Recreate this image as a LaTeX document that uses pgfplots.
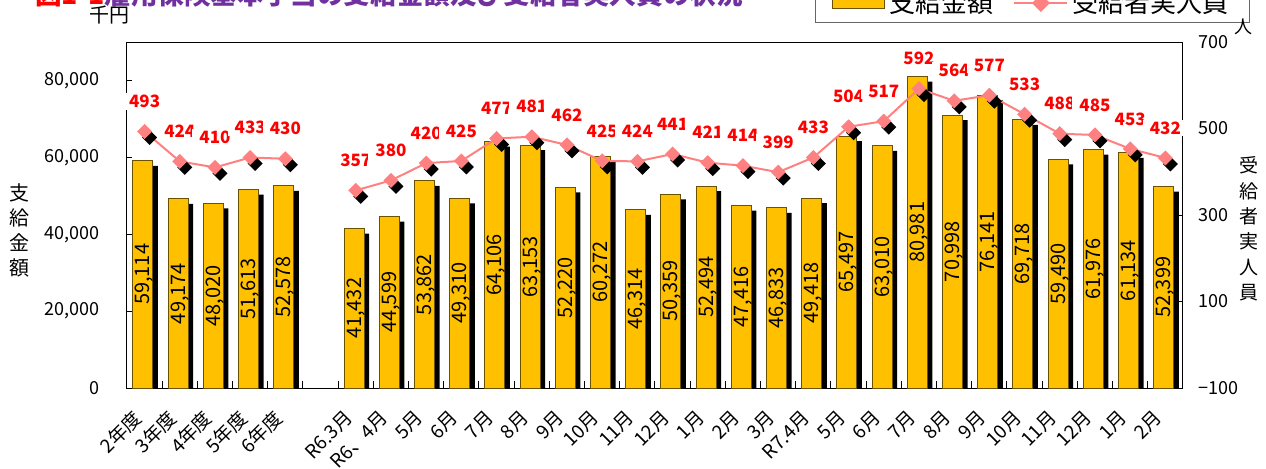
\documentclass[border=0pt]{standalone}
\usepackage{pgfplots}
\pgfplotsset{compat=1.18}
\usepackage{pgfplotstable}
\usepackage{fontspec}
\setmainfont{Noto Sans CJK JP}
\definecolor{barorange}{HTML}{FFC000}
\definecolor{bardark}{HTML}{6B5200}
\definecolor{linepink}{HTML}{FF8080}
\definecolor{labelred}{HTML}{FF0000}
\definecolor{titlered}{HTML}{FF0000}
\definecolor{titlepurple}{HTML}{7030A0}
\newcommand\tickfont{\fontsize{9}{10}\selectfont}
\newcommand\xlabfont{\fontsize{9.5}{10}\selectfont}
\newcommand\barfont{\fontsize{10}{10}\selectfont}
\newcommand\linelabfont{\fontsize{8.5}{8.5}\selectfont\bfseries}
\newcommand\legendfont{\fontsize{13}{13}\selectfont}

\pgfdeclareplotmark{shdiamond}{%
  \pgfsetfillcolor{black}%
  \pgfpathmoveto{\pgfqpoint{2.5pt}{0.75pt}}%
  \pgfpathlineto{\pgfqpoint{6.25pt}{-3pt}}%
  \pgfpathlineto{\pgfqpoint{2.5pt}{-6.75pt}}%
  \pgfpathlineto{\pgfqpoint{-1.25pt}{-3pt}}%
  \pgfpathclose\pgfusepathqfill
  \pgfsetfillcolor{linepink}%
  \pgfpathmoveto{\pgfqpoint{0pt}{3.75pt}}%
  \pgfpathlineto{\pgfqpoint{3.75pt}{0pt}}%
  \pgfpathlineto{\pgfqpoint{0pt}{-3.75pt}}%
  \pgfpathlineto{\pgfqpoint{-3.75pt}{0pt}}%
  \pgfpathclose\pgfusepathqfill
}

\pgfplotstableread{
x amt ppl
0 59114 493
1 49174 424
2 48020 410
3 51613 433
4 52578 430
5 nan nan
6 41432 357
7 44599 380
8 53862 420
9 49310 425
10 64106 477
11 63153 481
12 52220 462
13 60272 425
14 46314 424
15 50359 441
16 52494 421
17 47416 414
18 46833 399
19 49418 433
20 65497 504
21 63010 517
22 80981 592
23 70998 564
24 76141 577
25 69718 533
26 59490 488
27 61976 485
28 61134 453
29 52399 432
}\datatable

\begin{document}
\begin{tikzpicture}
\useasboundingbox (-63.5pt,-40pt) rectangle (569.5pt,194pt);

\begin{axis}[
  at={(0pt,0pt)}, anchor=south west,
  width=528pt, height=173pt, scale only axis,
  xmin=-0.5, xmax=29.5, ymin=0, ymax=90000,
  axis line style={line width=0.5pt},
  ytick={0,20000,40000,60000,80000},
  yticklabels={0,{20,000},{40,000},{60,000},{80,000}},
  scaled y ticks=false,
  ytick pos=left, xtick pos=bottom,
  tick align=inside,
  major tick length=2.5pt,
  minor tick length=3.5pt,
  tick style={black, line width=0.5pt},
  xtick={0,...,29},
  xticklabels={2年度,3年度,4年度,5年度,6年度,,R6.3月,R6、4月,5月,6月,7月,8月,9月,10月,11月,12月,1月,2月,3月,R7.4月,5月,6月,7月,8月,9月,10月,11月,12月,1月,2月},
  major x tick style={draw=none},
  minor xtick={0.5,1.5,...,28.5},
  xticklabel style={xshift=-3.25pt, yshift=-13.25pt, rotate=45, anchor=east, font=\xlabfont, inner sep=0pt},
  yticklabel style={inner sep=0pt, xshift=-13.5pt, font=\tickfont},
]
\addplot[ybar, bar width=10pt, bar shift=1.7pt, fill=black, draw=none]
  table[x=x, y expr=\thisrow{amt}-1300]{\datatable};
\addplot[ybar, bar width=10pt, bar shift=-0.8pt, fill=barorange, draw=bardark, line width=0.5pt,
  visualization depends on={\thisrow{amt}\as\rawy},
  nodes near coords={\pgfmathprintnumber[fixed,precision=0,1000 sep={,},assume math mode=true]{\pgfplotspointmeta}},
  every node near coord/.append style={shift={(axis direction cs:0,-\rawy/2)}, rotate=90, anchor=center, text=black, inner sep=0pt, font=\barfont},
] table[x=x, y=amt]{\datatable};
\end{axis}

\begin{axis}[
  at={(0pt,0pt)}, anchor=south west,
  width=528pt, height=173pt, scale only axis,
  xmin=-0.5, xmax=29.5, ymin=-100, ymax=700,
  axis x line=none, axis y line*=right,
  axis line style={line width=0.5pt, -},
  ytick={-100,100,300,500,700},
  yticklabels={−100,100,300,500,700},
  tick align=inside, major tick length=2.5pt,
  tick style={black, line width=0.5pt},
  yticklabel style={inner sep=0pt, xshift=7.5pt, font=\tickfont, anchor=west},
  unbounded coords=jump,
  legend columns=2,
  legend style={at={(1.0634,1.0549)}, anchor=south east, draw=black!60, line width=0.5pt,
    font=\legendfont, inner xsep=8.5pt, inner ysep=1.5pt,
    /tikz/every even column/.append style={column sep=8pt}},
]
\addlegendimage{legend image code/.code={\draw[fill=barorange,draw=bardark,line width=0.5pt] (0pt,-2.75pt) rectangle (26pt,2.75pt);}}
\addlegendentry{支給金額}
\addplot[color=linepink, line width=1pt, mark=shdiamond,
  nodes near coords={\pgfmathprintnumber[fixed,precision=0,assume math mode=true]{\pgfplotspointmeta}},
  every node near coord/.append style={font=\linelabfont, text=labelred, fill=white, inner xsep=3.5pt, inner ysep=1pt, anchor=center, yshift=15pt},
  legend image code/.code={\draw[linepink,line width=1pt] (0pt,0pt)--(26.5pt,0pt); \fill[linepink] (13.25pt,3.75pt)--(17pt,0pt)--(13.25pt,-3.75pt)--(9.5pt,0pt)--cycle;},
] table[x=x, y=ppl]{\datatable};
\addlegendentry{受給者実人員}
\end{axis}

\node[anchor=base west, inner sep=0pt, font=\fontsize{13.3}{13.3}\selectfont\bfseries] at (-46pt,191.75pt)
  {\textcolor{titlered}{図1-1}\textcolor{titlepurple}{雇用保険基本手当の受給金額及び受給者実人員の状況}};
\node[font=\fontsize{10}{10}\selectfont, inner sep=0pt] at (-8.5pt,186.5pt) {千円};
\node[font=\fontsize{9}{9}\selectfont, inner sep=0pt] at (558pt,180.5pt) {人};
\node[align=center, inner sep=0pt, font=\fontsize{10}{12.5}\selectfont] at (-53.5pt,79pt) {支\\給\\金\\額};
\node[align=center, inner sep=0pt, font=\fontsize{9.5}{12.7}\selectfont] at (561pt,79.5pt) {受\\給\\者\\実\\人\\員};
\end{tikzpicture}
\end{document}
